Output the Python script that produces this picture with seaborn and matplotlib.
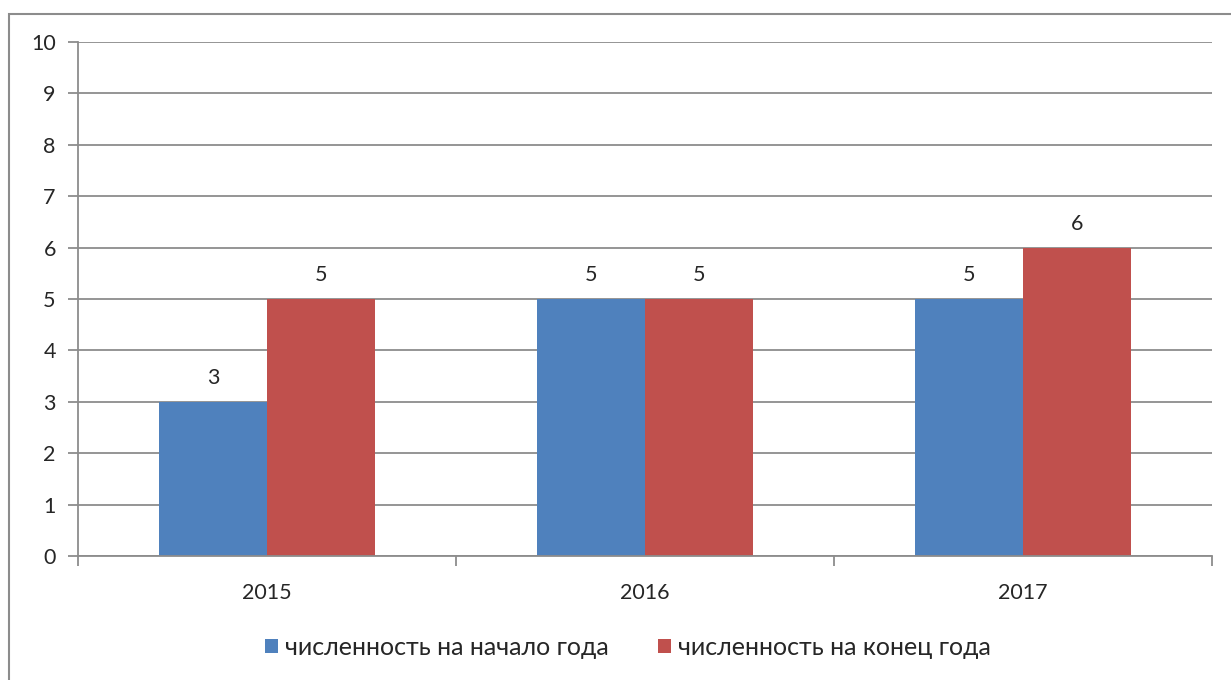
import matplotlib
matplotlib.use("Agg")
import matplotlib.pyplot as plt
from matplotlib.patches import Rectangle
import seaborn as sns
import pandas as pd

years = ["2015", "2016", "2017"]
series_names = ["численность на начало года", "численность на конец года"]
start_values = [3, 5, 5]
end_values = [5, 5, 6]
colors = ["#4F81BD", "#C0504D"]

df = pd.DataFrame({
    "year": years * 2,
    "series": [series_names[0]] * 3 + [series_names[1]] * 3,
    "value": start_values + end_values,
})

sns.set_style("white")
plt.rcParams["font.family"] = ["Lato", "DejaVu Sans"]

fig = plt.figure(figsize=(12.31, 6.80), dpi=100)
ax = fig.add_axes([78 / 1231, 1 - 556 / 680, (1212 - 78) / 1231, (556 - 42) / 680])

sns.barplot(data=df, x="year", y="value", hue="series", palette=colors,
            width=0.572, saturation=1, ax=ax, edgecolor="none", linewidth=0)

grid_c = "#8C8C8C"
ax.set_ylim(0, 10)
ax.set_xlim(-0.5, 2.5)
ax.set_yticks(range(0, 11))
ax.yaxis.grid(True, color=grid_c, linewidth=1.3)
ax.set_axisbelow(True)
for side in ["top", "right"]:
    ax.spines[side].set_visible(False)
for side in ["left", "bottom"]:
    ax.spines[side].set_color(grid_c)
    ax.spines[side].set_linewidth(1.3)

ax.tick_params(axis="y", which="major", left=True, length=7, width=1.3, color=grid_c,
               labelsize=15.5, pad=9)
ax.set_xticks([0, 1, 2])
ax.set_xticklabels(years)
ax.set_xticks([-0.5, 0.5, 1.5, 2.5], minor=True)
ax.tick_params(axis="x", which="major", bottom=False, labelsize=15.5, pad=16)
ax.tick_params(axis="x", which="minor", bottom=True, length=7, width=1.3, color=grid_c)
ax.set_xlabel("")
ax.set_ylabel("")

for cont in ax.containers:
    ax.bar_label(cont, fmt="%g", padding=10, fontsize=15.5)

handles, labels = ax.get_legend_handles_labels()
ax.legend(handles, labels, loc="center", bbox_to_anchor=(0.485, -0.178), ncol=2,
          frameon=False, fontsize=18, handlelength=0.5, handleheight=0.5,
          handletextpad=0.28, columnspacing=2.0)

fig.patches.append(Rectangle((9 / 1231, -0.05), 1.2, 1 - 14 / 680 + 0.05,
                             transform=fig.transFigure, fill=False,
                             edgecolor="#8C8C8C", linewidth=1.5))

fig.savefig("out.png", dpi=100, facecolor="white")
